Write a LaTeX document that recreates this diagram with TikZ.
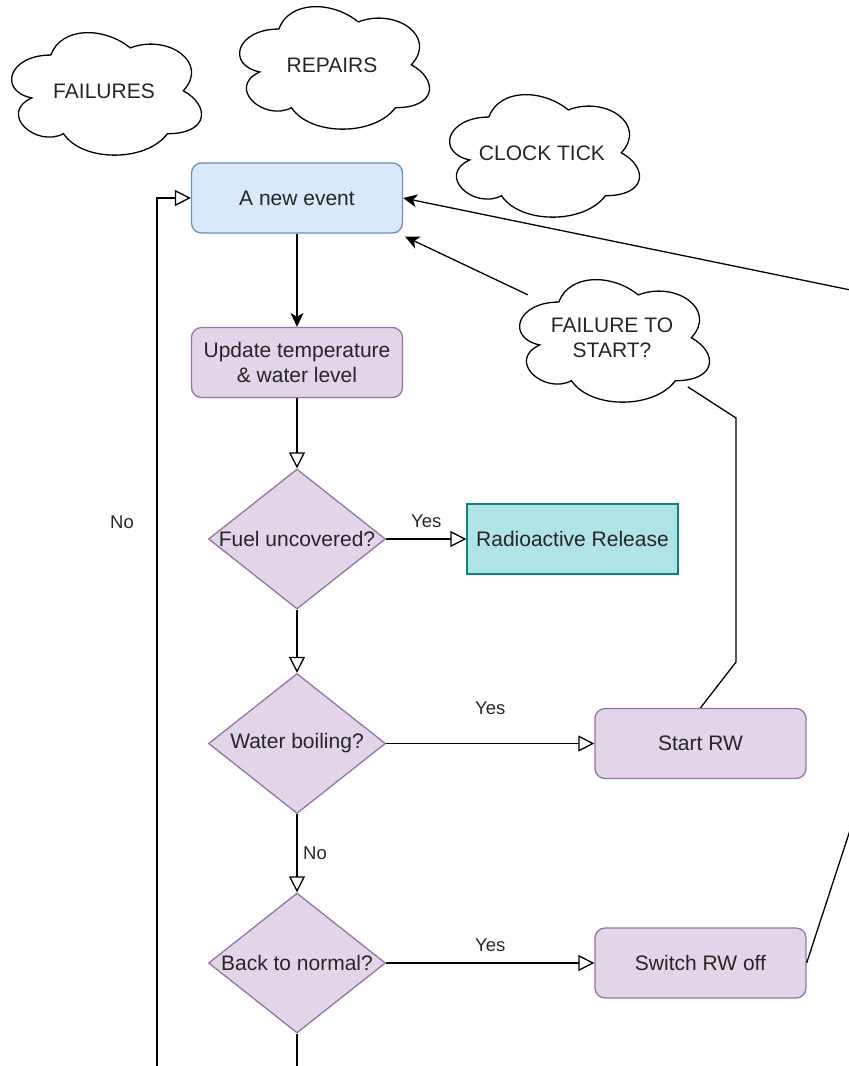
\documentclass[tikz,border=0pt]{standalone}
\usepackage{fontspec}
\setmainfont{Liberation Sans}
\usetikzlibrary{shapes.geometric, arrows.meta, calc}
\definecolor{bluefill}{HTML}{DAE8FC}
\definecolor{bluedraw}{HTML}{6C8EBF}
\definecolor{purplefill}{HTML}{E1D5E7}
\definecolor{purpledraw}{HTML}{9673A6}
\definecolor{tealfill}{HTML}{B0E3E6}
\definecolor{tealdraw}{HTML}{0E8088}
\definecolor{txtcol}{HTML}{262626}
\newcommand\drawcloud[1]{%
  \begin{scope}[shift={(#1.north west)}, x=212pt, y=-143pt]
    \draw[cloudline] (0.25,0.25) .. controls (0.05,0.25) and (0,0.5) .. (0.16,0.55)
      .. controls (0,0.66) and (0.18,0.9) .. (0.31,0.8)
      .. controls (0.4,1) and (0.7,1) .. (0.8,0.8)
      .. controls (1,0.8) and (1,0.6) .. (0.875,0.5)
      .. controls (1,0.3) and (0.8,0.1) .. (0.625,0.2)
      .. controls (0.5,0.05) and (0.3,0.05) .. (0.25,0.25) -- cycle;
  \end{scope}}
\begin{document}
\begin{tikzpicture}[x=1pt,y=-1pt,
  base/.style={inner sep=0pt, font=\fontsize{21}{25.5}\selectfont, text=txtcol, align=center},
  bluebox/.style={base, rectangle, rounded corners=10pt, draw=bluedraw, fill=bluefill, line width=1.3pt, minimum width=211pt, minimum height=70pt},
  purplebox/.style={base, rectangle, rounded corners=10pt, draw=purpledraw, fill=purplefill, line width=1.3pt, minimum width=211pt, minimum height=70pt},
  tealbox/.style={base, rectangle, draw=tealdraw, fill=tealfill, line width=1.3pt, minimum width=211pt, minimum height=70pt},
  dia/.style={diamond, draw=purpledraw, fill=purplefill, line width=1.3pt, minimum width=177pt, minimum height=140pt, inner sep=0pt},
  diatext/.style={base},
  cloudbox/.style={base, rectangle, minimum width=212pt, minimum height=143pt},
  cloudline/.style={draw=black, line width=1.3pt},
  conn/.style={draw=black, line width=1.3pt},
  openarr/.style={conn, -{Triangle[open, length=16pt, width=16pt]}},
  fillarr/.style={conn, -{Stealth[length=14pt, width=13pt, inset=4pt]}},
  lbl/.style={inner sep=0pt, font=\fontsize{18.5}{22}\selectfont, text=txtcol},
]
\useasboundingbox (0,0) rectangle (849,1066);
\begin{scope}
\clip (0,0) rectangle (849,1066);

% clouds
\node[cloudbox] (failures) at (104,91) {FAILURES};
\node[cloudbox] (repairs) at (332,65) {REPAIRS};
\node[cloudbox] (clock) at (542,153) {CLOCK TICK};
\node[cloudbox] (fts) at (612,338) {FAILURE TO\\START?};
\drawcloud{failures}
\drawcloud{repairs}
\drawcloud{clock}
\drawcloud{fts}

% boxes
\node[bluebox] (new) at (297,198) {A new event};
\node[purplebox] (upd) at (297,362.5) {Update temperature\\\& water level};
\node[dia] (fuel) at (297,539) {};
\node[diatext] at (fuel) {Fuel uncovered?};
\node[tealbox] (rad) at (572.5,539) {Radioactive Release};
\node[dia] (water) at (297,743.5) {};
\node[diatext] at (water) {Water boiling?};
\node[purplebox] (start) at (700.5,743.5) {Start RW};
\node[dia] (back) at (297,963) {};
\node[diatext] at (back) {Back to normal?};
\node[purplebox] (switch) at (700.5,963) {Switch RW off};

% connectors
\draw[fillarr] (new.south) -- (upd.north);
\draw[openarr] (upd.south) -- (fuel.north);
\draw[openarr] (fuel.east) -- node[lbl, yshift=18pt] {Yes} (rad.west);
\draw[openarr] (fuel.south) -- (water.north);
\draw[openarr] (water.east) -- node[lbl, yshift=35pt] {Yes} (start.west);
\draw[openarr] (water.south) -- node[lbl, xshift=18pt] {No} (back.north);
\draw[openarr] (back.east) -- node[lbl, yshift=18pt] {Yes} (switch.west);

\coordinate (loopA) at (297,1100);
\coordinate (loopB) at (157,1100);
\coordinate (loopC) at (157,198);
\draw[openarr] (back.south) -- (loopA) -- (loopB) -- node[lbl, pos=0.641, xshift=-35pt] {No} (loopC) -- (new.west);

\coordinate (s1) at (736,662);
\coordinate (s2) at (736,418);
\draw[conn] (start.north) -- (s1) -- (s2) -- ($(fts.north west)+(182,120.5)$);
\draw[fillarr] ($(fts.north west)+(22,28.5)$) -- ($(new.south east)+(2,3)$);

\coordinate (r1) at (870,769);
\coordinate (r2) at (870,294);
\draw[fillarr] (switch.east) -- (r1) -- (r2) -- (new.east);
\end{scope}
\end{tikzpicture}
\end{document}
